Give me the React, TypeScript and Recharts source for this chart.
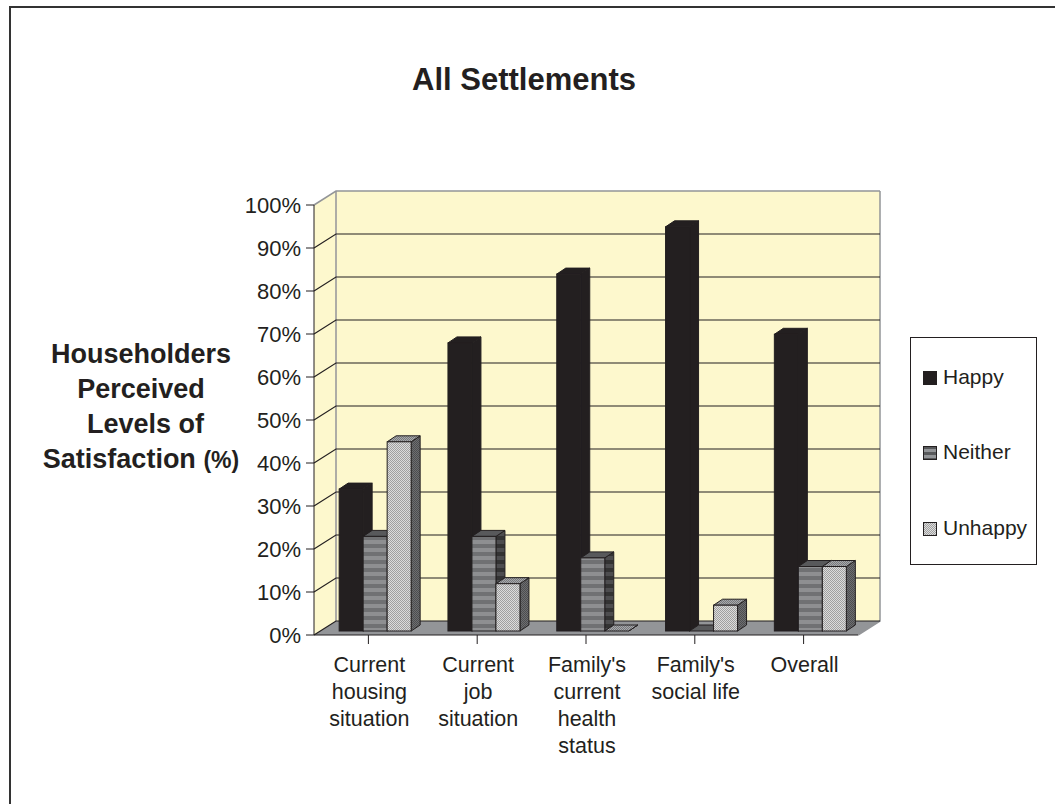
import { Bar, BarChart, CartesianGrid, Legend, XAxis, YAxis } from "recharts";

const categories = [
  "Current\nhousing\nsituation",
  "Current\njob\nsituation",
  "Family's\ncurrent\nhealth\nstatus",
  "Family's\nsocial life",
  "Overall",
];
const happy = [33, 67, 83, 94, 69];
const neither = [22, 22, 17, 0, 15];
const unhappy = [44, 11, 0, 6, 15];
const yTicks = [0, 10, 20, 30, 40, 50, 60, 70, 80, 90, 100];
const yLabelLines: [string, number, number][] = [
  ["Householders", 141, 363],
  ["Perceived", 141, 398],
  ["Levels of", 145.5, 433],
];
const seriesNames = ["Happy", "Neither", "Unhappy"];

const data = categories.map((name, i) => ({
  name,
  Happy: happy[i],
  Neither: neither[i],
  Unhappy: unhappy[i],
}));

// plot box is the front plane of the fake 3d chart, the wall sits behind it
const left = 314;
const top = 205;
const plotW = 544;
const plotH = 430;
const wallDx = 22;
const wallDy = 14;
const barDx = 7;
const barDy = 4;
const depthX = 9;
const depthY = 6;
const legendW = 127;
const yAxisW = 60;
const xAxisH = 30;

const faces: Record<string, { front: string; side: string; top: string; stroke: string }> = {
  Happy: { front: "#231f20", side: "#231f20", top: "#231f20", stroke: "#231f20" },
  Neither: { front: "url(#stripe)", side: "url(#stripeDark)", top: "#58595b", stroke: "#231f20" },
  Unhappy: { front: "url(#dither)", side: "url(#ditherDark)", top: "url(#ditherMid)", stroke: "#231f20" },
};

function Bar3D(props: any) {
  const { x, y, width, height, dataKey } = props;
  const f = faces[dataKey];
  const x0 = x + barDx;
  const y0 = y - barDy;
  const x1 = x0 + width;
  const y1 = y0 + height;
  return (
    <g stroke={f.stroke} strokeWidth={1}>
      <polygon
        points={`${x1},${y0} ${x1 + depthX},${y0 - depthY} ${x1 + depthX},${y1 - depthY} ${x1},${y1}`}
        fill={f.side}
      />
      <polygon
        points={`${x0},${y0} ${x0 + depthX},${y0 - depthY} ${x1 + depthX},${y0 - depthY} ${x1},${y0}`}
        fill={f.top}
      />
      <rect x={x0} y={y0} width={width} height={height} fill={f.front} />
    </g>
  );
}

function GridLine(props: any) {
  const { x1, x2, y1, index } = props;
  const yb = y1 - wallDy;
  const isEdge = y1 <= top + 0.5;
  return (
    <polyline
      key={index}
      points={`${x1},${y1} ${x1 + wallDx},${yb} ${x2 + wallDx},${yb}`}
      fill="none"
      stroke={isEdge ? "#939598" : "#231f20"}
      strokeWidth={isEdge ? 1.5 : 1.2}
    />
  );
}

function WallLine(props: any) {
  const { x1, x2, y1, index } = props;
  // only the top line carries the wall fills, so they stay under the grid
  if (y1 > top + 0.5) return <g key={index} />;
  const b = y1 + plotH;
  return (
    <g key={index}>
      <polygon
        points={`${x1},${y1} ${x1 + wallDx},${y1 - wallDy} ${x1 + wallDx},${b - wallDy} ${x1},${b}`}
        fill="#fdf8cd"
      />
      <rect x={x1 + wallDx} y={y1 - wallDy} width={x2 - x1} height={plotH} fill="#fdf8cd" />
      <polygon
        points={`${x1},${b} ${x1 + wallDx},${b - wallDy} ${x2 + wallDx},${b - wallDy} ${x2},${b}`}
        fill="#939598"
      />
      <polyline
        points={`${x1 + wallDx},${b - wallDy} ${x1 + wallDx},${y1 - wallDy}`}
        stroke="#939598"
        strokeWidth={1.5}
        fill="none"
      />
      <polyline
        points={`${x2 + wallDx},${y1 - wallDy} ${x2 + wallDx},${b - wallDy} ${x2},${b}`}
        stroke="#939598"
        strokeWidth={1.5}
        fill="none"
      />
    </g>
  );
}

function CategoryTick(props: any) {
  const { x, y, payload } = props;
  return (
    <text x={x + 1} y={y} textAnchor="middle" fontSize={21.5} fill="#231f20">
      {String(payload.value)
        .split("\n")
        .map((line, i) => (
          <tspan key={i} x={x + 1} y={y + 25.5 + i * 27}>
            {line}
          </tspan>
        ))}
    </text>
  );
}

function LegendBox() {
  const swatches = ["#231f20", "url(#stripeLegend)", "url(#dither)"];
  const rows = [377, 452, 528];
  return (
    <div
      style={{
        position: "relative",
        boxSizing: "border-box",
        width: legendW,
        height: 228,
        border: "1px solid #231f20",
        background: "#fff",
        textAlign: "left",
      }}
    >
      {seriesNames.map((name, i) => (
        <div
          key={name}
          style={{
            position: "absolute",
            left: 12,
            top: rows[i] - 337 - 15,
            height: 28,
            lineHeight: "28px",
            fontSize: 21,
            color: "#231f20",
            whiteSpace: "nowrap",
          }}
        >
          <svg width={14} height={14} style={{ verticalAlign: "-1px", marginRight: 6 }}>
            <rect x={0.5} y={0.5} width={13} height={13} fill={swatches[i]} stroke="#231f20" />
          </svg>
          {name}
        </div>
      ))}
    </div>
  );
}

export default function App() {
  return (
    <div style={{ position: "relative", width: 1047, height: 796, fontFamily: "'Liberation Sans', Arial, sans-serif" }}>
      <BarChart
        width={1055}
        height={804}
        data={data}
        margin={{
          left: left - yAxisW,
          top,
          right: 1055 - left - plotW - legendW,
          bottom: 804 - top - plotH - xAxisH,
        }}
        barCategoryGap={18.15}
        barGap={0}
        style={{ position: "absolute", left: -8, top: -8 }}
      >
        <defs>
          <pattern id="stripe" width={4} height={8} patternUnits="userSpaceOnUse">
            <rect width={4} height={8} fill="#707173" />
            <rect y={4} width={4} height={4} fill="#8e8f91" />
          </pattern>
          <pattern id="stripeLegend" width={4} height={6} patternUnits="userSpaceOnUse">
            <rect width={4} height={6} fill="#58595b" />
            <rect y={3} width={4} height={3} fill="#939598" />
          </pattern>
          <pattern id="stripeDark" width={4} height={8} patternUnits="userSpaceOnUse">
            <rect width={4} height={8} fill="#333" />
            <rect y={4} width={4} height={4} fill="#4d4d4f" />
          </pattern>
          <pattern id="dither" width={2} height={2} patternUnits="userSpaceOnUse">
            <rect width={2} height={2} fill="#dcdcdc" />
            <rect width={1} height={1} fill="#a0a0a0" />
            <rect x={1} y={1} width={1} height={1} fill="#a0a0a0" />
          </pattern>
          <pattern id="ditherMid" width={2} height={2} patternUnits="userSpaceOnUse">
            <rect width={2} height={2} fill="#a7a9ac" />
            <rect width={1} height={1} fill="#77787b" />
            <rect x={1} y={1} width={1} height={1} fill="#77787b" />
          </pattern>
          <pattern id="ditherDark" width={2} height={2} patternUnits="userSpaceOnUse">
            <rect width={2} height={2} fill="#6d6e71" />
            <rect width={1} height={1} fill="#4d4d4f" />
            <rect x={1} y={1} width={1} height={1} fill="#4d4d4f" />
          </pattern>
        </defs>
        <CartesianGrid vertical={false} horizontal={WallLine} />
        <CartesianGrid vertical={false} horizontal={GridLine} />
        <XAxis
          dataKey="name"
          interval={0}
          height={xAxisH}
          tick={CategoryTick}
          tickSize={9}
          axisLine={{ stroke: "#231f20" }}
          tickLine={{ stroke: "#231f20" }}
        />
        <YAxis
          domain={[0, 100]}
          ticks={yTicks}
          interval={0}
          width={yAxisW}
          tickFormatter={(v) => `${v}%`}
          tickSize={8}
          tickMargin={5}
          tick={{ fontSize: 22, fill: "#231f20" }}
          axisLine={{ stroke: "#231f20" }}
          tickLine={{ stroke: "#231f20" }}
        />
        <Bar dataKey="Happy" shape={Bar3D} isAnimationActive={false} />
        <Bar dataKey="Neither" shape={Bar3D} isAnimationActive={false} />
        <Bar dataKey="Unhappy" shape={Bar3D} isAnimationActive={false} />
        <Legend
          layout="vertical"
          align="right"
          verticalAlign="top"
          width={legendW}
          wrapperStyle={{ left: 910, top: 337, right: "auto", bottom: "auto" }}
          content={<LegendBox />}
        />
        <text x={524} y={90} textAnchor="middle" fontSize={31} fontWeight="bold" fill="#231f20">
          All Settlements
        </text>
        {yLabelLines.map(([line, x, y]) => (
          <text key={line} x={x} y={y} textAnchor="middle" fontSize={27} fontWeight="bold" fill="#231f20">
            {line}
          </text>
        ))}
        <text x={141} y={468} textAnchor="middle" fontSize={27} fontWeight="bold" fill="#231f20">
          Satisfaction <tspan fontSize={23}>(%)</tspan>
        </text>
      </BarChart>
      {/* page frame of the original figure, runs off the right and bottom edge */}
      <div
        style={{
          position: "fixed",
          left: 9,
          top: 6,
          width: 1046,
          height: 798,
          borderLeft: "2px solid #333",
          borderTop: "2px solid #333",
          pointerEvents: "none",
        }}
      />
    </div>
  );
}
